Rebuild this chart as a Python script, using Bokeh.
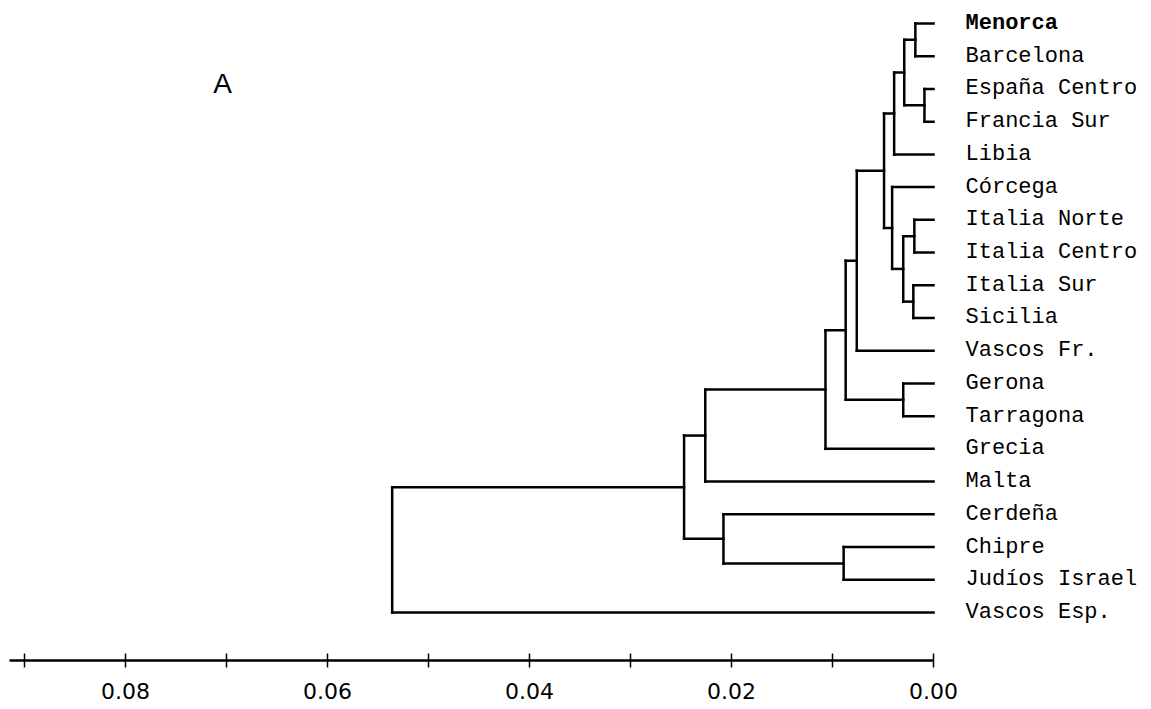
from bokeh.plotting import figure
from bokeh.models import Range1d, LinearAxis, FixedTicker, NumeralTickFormatter, ColumnDataSource, Label
from bokeh.core.properties import value
from bokeh.embed import file_html
from bokeh.resources import INLINE

# ---- data -------------------------------------------------------------
leaf_labels = ["Menorca", "Barcelona", "España Centro", "Francia Sur", "Libia",
               "Córcega", "Italia Norte", "Italia Centro", "Italia Sur", "Sicilia",
               "Vascos Fr.", "Gerona", "Tarragona", "Grecia", "Malta",
               "Cerdeña", "Chipre", "Judíos Israel", "Vascos Esp."]
leaf_styles = ["bold"] + ["normal"] * 18

# linkage: node ids 0..18 are leaves, merge k creates node 19+k
merge_left = [0, 2, 19, 21, 6, 8, 23, 5, 22, 27, 11, 28, 30, 31, 16, 15, 32, 35]
merge_right = [1, 3, 20, 4, 7, 9, 24, 25, 26, 10, 12, 29, 13, 14, 17, 33, 34, 18]
merge_height = [0.0018, 0.0009, 0.0029, 0.0039, 0.0019, 0.0020, 0.0030, 0.0041,
                0.0049, 0.0076, 0.0030, 0.0087, 0.0107, 0.0226, 0.0089, 0.0208,
                0.0247, 0.0536]

tick_values = [0.00, 0.02, 0.04, 0.06, 0.08]
minor_tick_values = [0.01, 0.03, 0.05, 0.07, 0.09]
panel_label = "A"

# ---- geometry from the linkage ---------------------------------------
n = len(leaf_labels)
ypos = [float(i) for i in range(n)]
hpos = [0.0] * n
x0, y0, x1, y1 = [], [], [], []
for l, r, h in zip(merge_left, merge_right, merge_height):
    # vertical join
    x0.append(h); y0.append(ypos[l]); x1.append(h); y1.append(ypos[r])
    # horizontal branches to children
    for c in (l, r):
        x0.append(h); y0.append(ypos[c]); x1.append(hpos[c]); y1.append(ypos[c])
    ypos.append((ypos[l] + ypos[r]) / 2.0)
    hpos.append(h)

seg_src = ColumnDataSource(dict(x0=x0, y0=y0, x1=x1, y1=y1))
lab_src = ColumnDataSource(dict(x=[0.0] * n, y=ypos[:n], text=leaf_labels, style=leaf_styles))

# ---- figure -----------------------------------------------------------
p = figure(width=1151, height=709, output_backend="svg", toolbar_location=None,
           x_axis_type=None, y_axis_type=None,
           x_range=Range1d(start=0.09238, end=-0.02158),
           y_range=Range1d(start=19.468, end=-0.703),
           min_border_left=0, min_border_right=0, min_border_top=0, min_border_bottom=49)
p.outline_line_color = None
p.background_fill_color = "white"
p.border_fill_color = "white"

p.segment(x0="x0", y0="y0", x1="x1", y1="y1", source=seg_src,
          line_color="black", line_width=2.5, line_cap="square")

p.text(x="x", y="y", text="text", source=lab_src, x_offset=32,
       text_baseline="middle", text_align="left",
       text_font=value("Liberation Mono"), text_font_size="22px",
       text_font_style="style", text_color="black")

p.add_layout(Label(x=0.0704, y=1.83, text=panel_label, text_align="center",
                   text_baseline="middle", text_font="Liberation Sans",
                   text_font_size="28px", text_color="black"))

ax = LinearAxis(ticker=FixedTicker(ticks=tick_values, minor_ticks=minor_tick_values),
                formatter=NumeralTickFormatter(format="0.00"))
ax.bounds = (0.0, 0.0915)
ax.axis_line_width = 2.5
ax.axis_line_color = "black"
ax.major_tick_in = 7
ax.major_tick_out = 7
ax.minor_tick_in = 7
ax.minor_tick_out = 7
ax.major_tick_line_width = 1.5
ax.minor_tick_line_width = 1.5
ax.major_label_standoff = 15
ax.major_label_text_font = "DejaVu Sans"
ax.major_label_text_font_size = "22px"
ax.major_label_text_color = "black"
p.add_layout(ax, "below")

open("out.html", "w").write(file_html(p, INLINE))
